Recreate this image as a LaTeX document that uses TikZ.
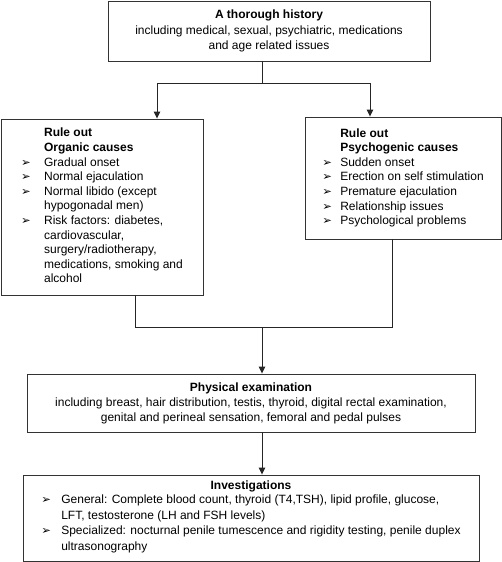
\documentclass[tikz,border=0pt]{standalone}
\usepackage{fontspec}
\setmainfont{Liberation Sans}
\newfontfamily\symfont{DejaVu Sans}
\usetikzlibrary{arrows.meta}
\newcommand{\bul}[1][23pt]{\makebox[#1][l]{\raisebox{0pt}{\symfont\fontsize{11.5}{12}\selectfont ➢}}}
\begin{document}
\begin{tikzpicture}[x=1pt,y=-1pt,
  box/.style={draw=black!80,line width=0.9pt,rectangle,inner sep=0pt},
  conn/.style={draw=black!85,line width=0.9pt},
  arr/.style={conn,-{Triangle[width=6.5pt,length=7pt]}}]
\useasboundingbox (0,0) rectangle (502,562);
\node[box,minimum width=322pt,minimum height=60pt,align=center,
  font=\fontsize{12}{15.5}\selectfont] (hist) at (269,31)
  {\textbf{A thorough history}\\including medical, sexual, psychiatric, medications\\and age related issues};
\node[box,minimum width=202pt,minimum height=176pt,
  font=\fontsize{12}{14.6}\selectfont] (org) at (102,207)
  {\begin{tabular}{@{}l@{}l@{}}
   & \textbf{Rule out}\\
   & \textbf{Organic causes}\\
   \bul & Gradual onset\\
   \bul & Normal ejaculation\\
   \bul & Normal libido (except\\
   & hypogonadal men)\\
   \bul & Risk factors: diabetes,\\
   & cardiovascular,\\
   & surgery/radiotherapy,\\
   & medications, smoking and\\
   & alcohol
   \end{tabular}};
\node[box,minimum width=196pt,minimum height=122pt,
  font=\fontsize{12}{14.6}\selectfont] (psy) at (403,178)
  {\begin{tabular}{@{}l@{}l@{}}
   & \textbf{Rule out}\\
   & \textbf{Psychogenic causes}\\
   \bul[18pt] & Sudden onset\\
   \bul[18pt] & Erection on self stimulation\\
   \bul[18pt] & Premature ejaculation\\
   \bul[18pt] & Relationship issues\\
   \bul[18pt] & Psychological problems
   \end{tabular}};
\node[box,minimum width=448pt,minimum height=58pt,align=center,
  font=\fontsize{12}{15}\selectfont] (phys) at (251,403)
  {\textbf{Physical examination}\\including breast, hair distribution, testis, thyroid, digital rectal examination,\\genital and perineal sensation, femoral and pedal pulses};
\node[box,minimum width=456pt,minimum height=86pt,align=center,
  font=\fontsize{12}{15.5}\selectfont] (inv) at (251,518)
  {\textbf{Investigations}\\
   \begin{tabular}{@{}l@{}l@{}}
   \bul[20pt] & General: Complete blood count, thyroid (T4,TSH), lipid profile, glucose,\\
   & LFT, testosterone (LH and FSH levels)\\
   \bul[20pt] & Specialized: nocturnal penile tumescence and rigidity testing, penile duplex\\
   & ultrasonography
   \end{tabular}};
\coordinate (split) at (262,83);
\coordinate (ldrop) at (157,83);
\coordinate (rdrop) at (370,83);
\coordinate (join) at (262,327);
\coordinate (lj) at (135,327);
\coordinate (rj) at (392,327);
\draw[conn] (split |- hist.south) -- (split);
\draw[conn] (ldrop) -- (rdrop);
\draw[arr] (ldrop) -- (ldrop |- org.north);
\draw[arr] (rdrop) -- (rdrop |- psy.north);
\draw[conn] (lj |- org.south) -- (lj) -- (rj) -- (rj |- psy.south);
\draw[arr] (join) -- (join |- phys.north);
\draw[arr] (join |- phys.south) -- (join |- inv.north);
\end{tikzpicture}
\end{document}
